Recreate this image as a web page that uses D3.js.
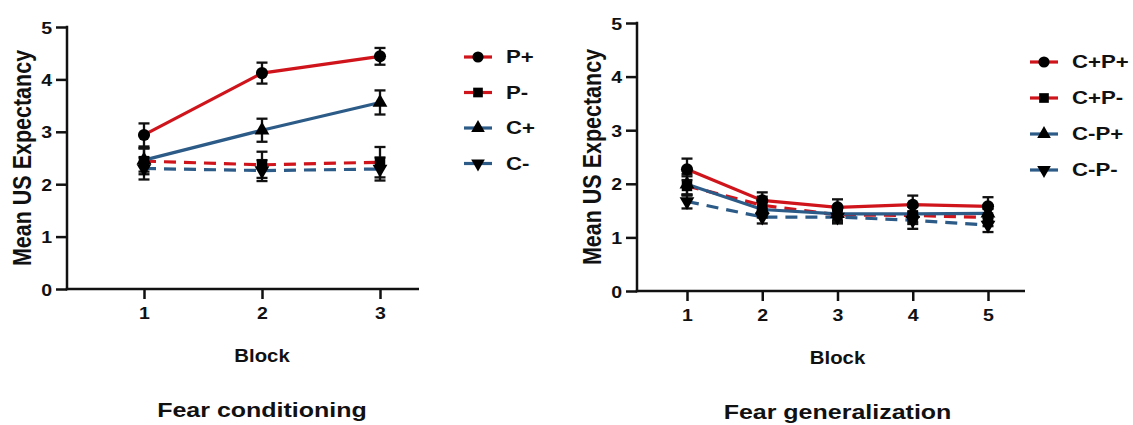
<!doctype html>
<html>
<head>
<meta charset="utf-8">
<title>Fear conditioning / generalization</title>
<style>
  body { margin: 0; background: #fff; }
  text { font-family: "Liberation Sans", Arial, sans-serif; font-weight: bold; }
</style>
</head>
<body>
<svg id="chart" width="1133" height="425"></svg>
<script src="https://d3js.org/d3.v7.min.js"></script>
<script>
// ---- data: fear conditioning ----
const condBlocks = [1, 2, 3];
const condNames = ["P+", "P-", "C+", "C-"];
const condMeans = [
  [2.94, 4.12, 4.44],
  [2.44, 2.37, 2.42],
  [2.46, 3.03, 3.56],
  [2.30, 2.26, 2.29]
];
const condErr = [
  [0.22, 0.20, 0.16],
  [0.25, 0.25, 0.29],
  [0.22, 0.22, 0.23],
  [0.21, 0.20, 0.22]
];

// ---- data: fear generalization ----
const genBlocks = [1, 2, 3, 4, 5];
const genNames = ["C+P+", "C+P-", "C-P+", "C-P-"];
const genMeans = [
  [2.27, 1.69, 1.56, 1.61, 1.58],
  [1.96, 1.60, 1.42, 1.41, 1.37],
  [1.99, 1.52, 1.44, 1.44, 1.45],
  [1.67, 1.38, 1.38, 1.32, 1.23]
];
const genErr = [
  [0.20, 0.15, 0.15, 0.17, 0.17],
  [0.18, 0.16, 0.14, 0.16, 0.16],
  [0.19, 0.15, 0.13, 0.15, 0.15],
  [0.13, 0.12, 0.12, 0.16, 0.13]
];

const yTicks = [0, 1, 2, 3, 4, 5];
const red = "#d0141c", blue = "#2c5b88";
const seriesColor = [red, red, blue, blue];
const seriesDash = [null, "12,8", null, "12,8"];
const seriesSymbol = [d3.symbolCircle, d3.symbolSquare, d3.symbolTriangle, d3.symbolTriangle];
const seriesRotate = [0, 0, 0, 180];
const symbolSize = [115, 110, 95, 95];

const svg = d3.select("#chart");

// the original figure is a bit stretched sideways, so text is too
function label(g, x, y, str, size, sx, anchor) {
  return g.append("text")
    .attr("transform", "translate(" + x + "," + y + ") scale(" + sx + ",1)")
    .attr("text-anchor", anchor || "middle")
    .attr("font-size", size)
    .attr("fill", "#111")
    .text(str);
}

function panel(opt) {
  const g = svg.append("g");
  const x = d3.scaleLinear().domain(opt.xDomain).range([opt.x1, opt.x2]);
  const y = d3.scaleLinear().domain([0, 5]).range([opt.bottom, opt.top]);

  const ya = g.append("g")
    .attr("transform", "translate(" + opt.axisX + ",0)")
    .call(d3.axisLeft(y).tickValues(yTicks).tickFormat(d3.format("d")).tickSize(11).tickPadding(2));
  const xa = g.append("g")
    .attr("transform", "translate(0," + opt.bottom + ")")
    .call(d3.axisBottom(x).tickValues(opt.blocks).tickFormat(d3.format("d")).tickSize(10).tickPadding(8));
  [ya, xa].forEach(a => {
    a.select(".domain").remove();
    a.selectAll("line").attr("stroke", "#111").attr("stroke-width", 2.5);
    a.selectAll("text").attr("font-size", 17).attr("fill", "#111")
      .attr("font-family", "Liberation Sans, Arial, sans-serif").attr("font-weight", "bold");
  });
  ya.selectAll("text").attr("transform", "scale(1.15,1)").attr("dy", "0.36em");
  xa.selectAll("text").attr("transform", "scale(1.15,1)").attr("dy", "0.72em");

  g.append("line").attr("x1", opt.axisX).attr("x2", opt.axisX)
    .attr("y1", opt.top - 1.2).attr("y2", opt.bottom + 1.2)
    .attr("stroke", "#111").attr("stroke-width", 2.5);
  g.append("line").attr("x1", opt.axisX - 1.2).attr("x2", opt.axisEnd)
    .attr("y1", opt.bottom).attr("y2", opt.bottom)
    .attr("stroke", "#111").attr("stroke-width", 2.5);

  const line = d3.line().x((d, i) => x(opt.blocks[i])).y(d => y(d));

  opt.means.forEach((m, s) => {
    g.append("path").datum(m)
      .attr("d", line)
      .attr("fill", "none")
      .attr("stroke", seriesColor[s])
      .attr("stroke-width", 3.2)
      .attr("stroke-dasharray", seriesDash[s]);
  });

  // error bars
  opt.means.forEach((m, s) => {
    m.forEach((v, i) => {
      const cx = x(opt.blocks[i]);
      const e = opt.err[s][i];
      const eg = g.append("g").attr("stroke", "#111").attr("stroke-width", 2.3);
      eg.append("line").attr("x1", cx).attr("x2", cx).attr("y1", y(v - e)).attr("y2", y(v + e));
      eg.append("line").attr("x1", cx - 5.5).attr("x2", cx + 5.5).attr("y1", y(v - e)).attr("y2", y(v - e));
      eg.append("line").attr("x1", cx - 5.5).attr("x2", cx + 5.5).attr("y1", y(v + e)).attr("y2", y(v + e));
    });
  });
  // markers
  opt.means.forEach((m, s) => {
    m.forEach((v, i) => {
      g.append("path")
        .attr("d", d3.symbol().type(seriesSymbol[s]).size(symbolSize[s])())
        .attr("transform", "translate(" + x(opt.blocks[i]) + "," + y(v) + ") rotate(" + seriesRotate[s] + ")")
        .attr("fill", "#000");
    });
  });

  // y title, stretched sideways like the rest
  g.append("text")
    .attr("transform", "translate(" + opt.yLabelX + "," + ((opt.top + opt.bottom) / 2) + ") scale(1.2,1) rotate(-90)")
    .attr("text-anchor", "middle").attr("font-size", 21.5).attr("fill", "#111")
    .text("Mean US Expectancy");

  const mid = x(opt.blocks[Math.floor(opt.blocks.length / 2)]);
  label(g, mid, opt.bottom + 73, "Block", 18.5, 1.1);
  label(g, mid, opt.titleY, opt.title, 21, 1.19);

  // legend
  opt.names.forEach((n, s) => {
    const ly = opt.legendY + s * opt.legendStep;
    const lg = g.append("g").attr("transform", "translate(" + opt.legendX + "," + ly + ")");
    lg.append("line").attr("x1", -14).attr("x2", 14).attr("y1", 0).attr("y2", 0)
      .attr("stroke", seriesColor[s]).attr("stroke-width", 3.2);
    lg.append("path")
      .attr("d", d3.symbol().type(seriesSymbol[s]).size(symbolSize[s] * 0.85)())
      .attr("transform", "rotate(" + seriesRotate[s] + ")")
      .attr("fill", "#000");
    label(lg, 28, 6, n, 18.5, 1.2, "start");
  });
}

panel({
  xDomain: [1, 3], x1: 144, x2: 380, axisX: 67, top: 27, bottom: 289, axisEnd: 419,
  blocks: condBlocks, means: condMeans, err: condErr, names: condNames,
  yLabelX: 31, titleY: 417, title: "Fear conditioning",
  legendX: 478, legendY: 57, legendStep: 35.5
});
panel({
  xDomain: [1, 5], x1: 687, x2: 988, axisX: 637, top: 23, bottom: 291, axisEnd: 1025,
  blocks: genBlocks, means: genMeans, err: genErr, names: genNames,
  yLabelX: 601, titleY: 419, title: "Fear generalization",
  legendX: 1044, legendY: 62, legendStep: 36
});
</script>
</body>
</html>
